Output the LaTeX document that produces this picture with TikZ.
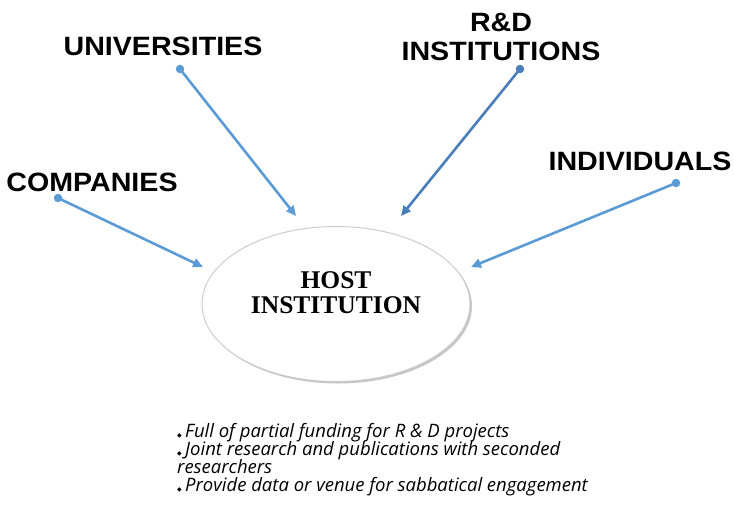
\documentclass[tikz,border=0pt]{standalone}
\usepackage{fontspec}
\setmainfont{Liberation Serif}
\newfontfamily\labfont[FakeStretch=1.08]{Liberation Sans}
\newfontfamily\notefont{Open Sans}
\newfontfamily\symfont{DejaVu Sans}
\usetikzlibrary{shapes.geometric,arrows.meta}
\definecolor{lblue}{HTML}{5B9BD5}
\definecolor{dblue}{HTML}{4A7EBB}
\begin{document}
\begin{tikzpicture}[x=1pt,y=-1pt,
  lbl/.style={font=\labfont\bfseries\fontsize{26.5}{29}\selectfont, align=center, inner sep=0pt},
  dotnode/.style={circle, fill=#1, inner sep=0pt, minimum size=8.5pt},
  conn/.style={draw=#1, line width=2.6pt, -{Triangle[length=10pt,width=9pt]}},
  notetext/.style={font=\notefont\itshape\fontsize{18.5}{18}\selectfont, anchor=base west, inner sep=0pt},
  bul/.style={font=\symfont\fontsize{6}{6}\selectfont, anchor=base west, inner sep=0pt},
]
\useasboundingbox (0,0) rectangle (734,507);
% host ellipse with shadow
\node[ellipse, fill=gray!45, minimum width=268pt, minimum height=155pt, inner sep=0pt] (hostshadow) at (338,306) {};
\node[ellipse, draw=gray!40, line width=1pt, fill=white, minimum width=268pt, minimum height=155pt, inner sep=0pt] (host) at (336,304) {};
\node[font=\bfseries\fontsize{25.5}{25}\selectfont, align=center, inner sep=0pt] (hostlabel) at (336,293) {HOST\\INSTITUTION};
% labels
\node[lbl] (univ) at (163,46) {UNIVERSITIES};
\node[lbl] (comp) at (92,182) {COMPANIES};
\node[lbl] (rnd) at (501,37) {R\&D\\INSTITUTIONS};
\node[lbl] (indiv) at (640,161) {INDIVIDUALS};
% dots
\node[dotnode=lblue] (du) at (180,69) {};
\node[dotnode=lblue] (dc) at (58,198) {};
\node[dotnode=dblue] (dr) at (520,69) {};
\node[dotnode=lblue] (di) at (676,183) {};
% arrow tips
\coordinate (tu) at (296,216);
\coordinate (tc) at (203,267);
\coordinate (tr) at (401,216);
\coordinate (ti) at (471,267);
\draw[conn=lblue] (du.center) -- (tu);
\draw[conn=lblue] (dc.center) -- (tc);
\draw[conn=dblue] (dr.center) -- (tr);
\draw[conn=lblue] (di.center) -- (ti);
% notes
\node[bul] (b1) at (177,437) {◆};
\node[notetext] (n1) at (185,437) {Full of partial funding for R \& D projects};
\node[bul] (b2) at (177,455) {◆};
\node[notetext] (n2) at (185,455) {Joint research and publications with seconded};
\node[notetext] (n3) at (177,473) {researchers};
\node[bul] (b4) at (177,491) {◆};
\node[notetext] (n4) at (185,491) {Provide data or venue for sabbatical engagement};
\end{tikzpicture}
\end{document}
